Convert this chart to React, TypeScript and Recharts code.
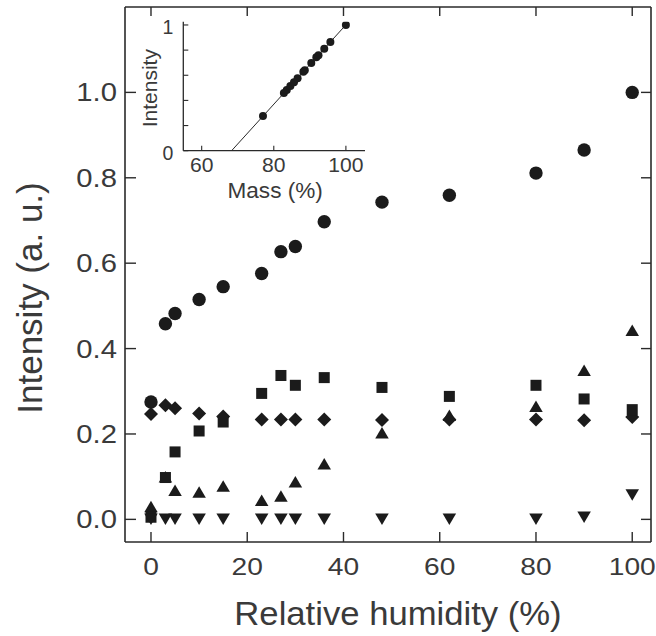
import React from 'react';
import { ScatterChart, Scatter, XAxis, YAxis } from 'recharts';

// ---- main chart data ----
const relativeHumidity = [0, 3, 5, 10, 15, 23, 27, 30, 36, 48, 62, 80, 90, 100];
const circleSeries = [0.275, 0.458, 0.482, 0.515, 0.545, 0.576, 0.627, 0.639, 0.697, 0.743, 0.759, 0.811, 0.865, 1.0];
const squareSeries = [0.005, 0.098, 0.158, 0.207, 0.228, 0.295, 0.337, 0.314, 0.332, 0.309, 0.288, 0.314, 0.282, 0.257];
const triangleUpSeries = [0.03, 0.1, 0.068, 0.064, 0.078, 0.045, 0.055, 0.088, 0.13, 0.203, 0.244, 0.265, 0.349, 0.443];
const diamondSeries = [0.247, 0.267, 0.26, 0.248, 0.241, 0.234, 0.234, 0.234, 0.234, 0.233, 0.234, 0.234, 0.232, 0.24];
const triangleDownSeries = [0, 0, 0, 0, 0, 0, 0, 0, 0, 0, 0, 0, 0.005, 0.057];
const xTicks = [0, 20, 40, 60, 80, 100];
const yTicks = [0, 0.2, 0.4, 0.6, 0.8, 1.0];

// ---- inset data ----
const insetMass = [77.0, 82.8, 83.6, 84.6, 85.6, 86.6, 88.2, 88.6, 90.4, 91.8, 92.4, 94.0, 95.7, 100];
const insetIntensity = [0.276, 0.458, 0.482, 0.515, 0.545, 0.576, 0.627, 0.639, 0.697, 0.743, 0.759, 0.811, 0.865, 1.0];
const fitMass = [68.3, 100.6];
const fitIntensity = [0, 1.02];
const insetXTicks = [60, 80, 100];
const insetYTicks = [0, 0.2, 0.4, 0.6, 0.8, 1];
const insetYLabels = [0, 1];

const toPoints = (ys: number[]) => relativeHumidity.map((x, i) => ({ x, y: ys[i] }));
const insetPoints = insetMass.map((m, i) => ({ x: m, y: insetIntensity[i] }));
const fitPoints = fitMass.map((m, i) => ({ x: m, y: fitIntensity[i] }));

const INK = '#1b1b1b';
const LINE = '#2a2a2a';
const TEXT = '#3a3a3a';
const FONT = '"Liberation Sans", Arial, Helvetica, sans-serif';

// ---- marker shapes ----
const circleShape = (r: number) => (p: any) => <circle cx={p.cx} cy={p.cy} r={r} fill={INK} />;
const squareShape = (s: number) => (p: any) => (
  <rect x={p.cx - s / 2} y={p.cy - s / 2} width={s} height={s} fill={INK} />
);
const triUpShape = (w: number, h: number) => (p: any) => (
  <polygon
    points={`${p.cx - w / 2},${p.cy + h / 2} ${p.cx + w / 2},${p.cy + h / 2} ${p.cx},${p.cy - h / 2}`}
    fill={INK}
  />
);
const triDownShape = (w: number, h: number) => (p: any) => (
  <polygon
    points={`${p.cx - w / 2},${p.cy - h / 2} ${p.cx + w / 2},${p.cy - h / 2} ${p.cx},${p.cy + h / 2}`}
    fill={INK}
  />
);
const diamondShape = (w: number, h: number) => (p: any) => (
  <polygon
    points={`${p.cx},${p.cy - h / 2} ${p.cx + w / 2},${p.cy} ${p.cx},${p.cy + h / 2} ${p.cx - w / 2},${p.cy}`}
    fill={INK}
  />
);

// text with slight horizontal stretch (reference glyphs are wider than Arial)
const SText = (props: any) => {
  const { x, y, sx = 1, rot = 0, anchor = 'middle', size, children } = props;
  return (
    <text
      transform={`translate(${x},${y}) rotate(${rot}) scale(${sx},1)`}
      x={0}
      y={0}
      textAnchor={anchor}
      fill={TEXT}
      fontSize={size}
      fontFamily={FONT}
    >
      {children}
    </text>
  );
};

// ---- inward ticks ----
type TickOpts = {
  len: number;
  gap?: number;
  dy?: number;
  fontSize?: number;
  sx?: number;
  fmt?: (v: number) => string;
  show?: (v: number) => boolean;
  sw?: number;
};
const leftTick = (o: TickOpts) => (p: any) => {
  const v = p.payload.value;
  const showLabel = o.fmt && (!o.show || o.show(v));
  return (
    <g>
      <line x1={p.x} y1={p.y} x2={p.x + o.len} y2={p.y} stroke={LINE} strokeWidth={o.sw || 1.4} />
      {showLabel ? (
        <SText x={p.x - (o.gap || 0)} y={p.y + (o.dy || 0)} anchor="end" size={o.fontSize} sx={o.sx || 1}>
          {o.fmt!(v)}
        </SText>
      ) : null}
    </g>
  );
};
const bottomTick = (o: TickOpts) => (p: any) => {
  const v = p.payload.value;
  return (
    <g>
      <line x1={p.x} y1={p.y} x2={p.x} y2={p.y - o.len} stroke={LINE} strokeWidth={o.sw || 1.4} />
      {o.fmt ? (
        <SText x={p.x} y={p.y + (o.gap || 0)} anchor="middle" size={o.fontSize} sx={o.sx || 1}>
          {o.fmt(v)}
        </SText>
      ) : null}
    </g>
  );
};
const topTick = (o: TickOpts) => (p: any) => (
  <line x1={p.x} y1={p.y} x2={p.x} y2={p.y + o.len} stroke={LINE} strokeWidth={o.sw || 1.4} />
);
const rightTick = (o: TickOpts) => (p: any) => (
  <line x1={p.x} y1={p.y} x2={p.x - o.len} y2={p.y} stroke={LINE} strokeWidth={o.sw || 1.4} />
);

const MainYTitle = (props: any) => {
  const vb = props.viewBox;
  return (
    <SText x={vb.x + 42} y={vb.y + vb.height / 2 + 23.5} rot={-90} size={35}>
      Intensity (a. u.)
    </SText>
  );
};
const MainXTitle = (props: any) => {
  const vb = props.viewBox;
  return (
    <SText x={vb.x + vb.width / 2 + 10} y={vb.y + 83} size={33} sx={1.05}>
      Relative humidity (%)
    </SText>
  );
};
const InsetYTitle = (props: any) => {
  const vb = props.viewBox;
  return (
    <SText x={vb.x + vb.width - 26.6} y={vb.y + vb.height / 2 + 2} rot={-90} size={21}>
      Intensity
    </SText>
  );
};
const InsetXTitle = (props: any) => {
  const vb = props.viewBox;
  return (
    <SText x={vb.x + vb.width / 2 + 1} y={vb.y + 47.6} size={21.5} sx={1.05}>
      Mass (%)
    </SText>
  );
};

const fmt1 = (v: number) => v.toFixed(1);
const fmt0 = (v: number) => String(Math.round(v));
const axisLineStyle = { stroke: LINE, strokeWidth: 1.6 };

export default function App() {
  const xDomain: [number, number] = [-5.4, 103.9];
  const yDomain: [number, number] = [-0.053, 1.2];
  return (
    <div style={{ position: 'absolute', left: 0, top: 0, width: 656, height: 636, background: '#fff' }}>
      <div style={{ position: 'absolute', left: 0, top: 0 }}>
        <ScatterChart width={656} height={636} margin={{ top: 0, right: 0, bottom: 0, left: 0 }}>
          <XAxis
            xAxisId="b"
            type="number"
            dataKey="x"
            domain={xDomain}
            allowDataOverflow
            ticks={xTicks}
            orientation="bottom"
            height={94}
            tickSize={0}
            tickMargin={0}
            tickLine={false}
            axisLine={axisLineStyle}
            tick={bottomTick({ len: 10, gap: 33, fontSize: 24.5, sx: 1.15, fmt: fmt0 })}
            interval={0}
            label={<MainXTitle />}
          />
          <XAxis
            xAxisId="t"
            type="number"
            dataKey="x"
            domain={xDomain}
            allowDataOverflow
            ticks={xTicks}
            orientation="top"
            height={7}
            tickSize={0}
            tickMargin={0}
            tickLine={false}
            axisLine={axisLineStyle}
            tick={topTick({ len: 9 })}
            interval={0}
          />
          <YAxis
            yAxisId="l"
            type="number"
            dataKey="y"
            domain={yDomain}
            allowDataOverflow
            ticks={yTicks}
            orientation="left"
            width={125}
            tickSize={0}
            tickMargin={0}
            tickLine={false}
            axisLine={axisLineStyle}
            tick={leftTick({ len: 11, gap: 8, dy: 9, fontSize: 25, sx: 1.17, fmt: fmt1 })}
            interval={0}
            label={<MainYTitle />}
          />
          <YAxis
            yAxisId="r"
            type="number"
            dataKey="y"
            domain={yDomain}
            allowDataOverflow
            ticks={yTicks}
            orientation="right"
            width={5}
            tickSize={0}
            tickMargin={0}
            tickLine={false}
            axisLine={axisLineStyle}
            tick={rightTick({ len: 10 })}
            interval={0}
          />
          <Scatter xAxisId="b" yAxisId="l" data={toPoints(circleSeries)} shape={circleShape(6.7)} isAnimationActive={false} />
          <Scatter xAxisId="b" yAxisId="l" data={toPoints(triangleUpSeries)} shape={triUpShape(13.5, 11.5)} isAnimationActive={false} />
          <Scatter xAxisId="b" yAxisId="l" data={toPoints(diamondSeries)} shape={diamondShape(14, 14)} isAnimationActive={false} />
          <Scatter xAxisId="b" yAxisId="l" data={toPoints(squareSeries)} shape={squareShape(11)} isAnimationActive={false} />
          <Scatter xAxisId="b" yAxisId="l" data={toPoints(triangleDownSeries)} shape={triDownShape(13.5, 11.5)} isAnimationActive={false} />
        </ScatterChart>
      </div>
      <div style={{ position: 'absolute', left: 0, top: 0 }}>
        <ScatterChart width={400} height={210} margin={{ top: 21.7, right: 35, bottom: 0, left: 0 }}>
          <XAxis
            type="number"
            dataKey="x"
            domain={[54.9, 105.3]}
            allowDataOverflow
            ticks={insetXTicks}
            height={59.3}
            tickSize={0}
            tickMargin={0}
            tickLine={false}
            axisLine={{ stroke: LINE, strokeWidth: 1.3 }}
            tick={bottomTick({ len: 5, gap: 21, fontSize: 20.5, sx: 1.03, fmt: fmt0, sw: 1.1 })}
            interval={0}
            label={<InsetXTitle />}
          />
          <YAxis
            type="number"
            dataKey="y"
            domain={[0, 1.026]}
            allowDataOverflow
            ticks={insetYTicks}
            width={183.3}
            tickSize={0}
            tickMargin={0}
            tickLine={false}
            axisLine={{ stroke: LINE, strokeWidth: 1.3 }}
            tick={leftTick({ len: 5, gap: 10, dy: 9.5, fontSize: 19.5, fmt: fmt0, show: (v) => insetYLabels.includes(v), sw: 1.1 })}
            interval={0}
            label={<InsetYTitle />}
          />
          <Scatter data={fitPoints} line={{ stroke: LINE, strokeWidth: 1 }} shape={() => null} isAnimationActive={false} />
          <Scatter data={insetPoints} shape={circleShape(4)} isAnimationActive={false} />
        </ScatterChart>
      </div>
    </div>
  );
}
